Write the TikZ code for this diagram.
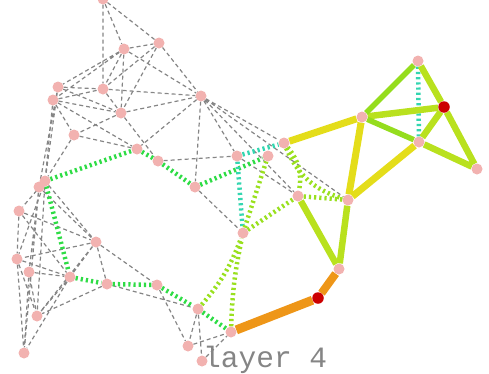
\documentclass[tikz,border=0pt]{standalone}
\usepackage{fontspec}
\newfontfamily\layerfont{Liberation Mono}
\usepackage{tikz}
\usetikzlibrary{backgrounds}

\definecolor{vtxpink}{HTML}{F2B2B0}
\definecolor{vtxred}{HTML}{CC0000}
\definecolor{linkgray}{HTML}{858585}
\definecolor{edgeyellow}{HTML}{E4DD1A}
\definecolor{edgelime}{HTML}{B9E11E}
\definecolor{edgegreen}{HTML}{95DD1E}
\definecolor{edgeorange}{HTML}{EE9618}
\definecolor{dotgreen}{HTML}{2EDC45}
\definecolor{dotlime}{HTML}{99E01E}
\definecolor{dotcyan}{HTML}{33D6B0}

\begin{document}
\begin{tikzpicture}[
  x=1pt, y=-1pt,
  vtx/.style={
    circle,
    fill=vtxpink,
    inner sep=0pt,
    minimum size=11pt
  },
  hub/.style={
    circle,
    fill=vtxred,
    inner sep=0pt,
    minimum size=11.5pt
  },
  link/.style={
    draw=linkgray,
    dash pattern=on 4pt off 3pt,
    line width=1.2pt
  },
  dotted edge/.style={
    dash pattern=on 2.2pt off 3pt,
    line width=4.5pt
  },
  bold edge/.style={
    line width=6.5pt
  }
]

\useasboundingbox (0,0) rectangle (489,373);

% Upper cluster
\node[vtx] (n01) at (103,-1) {};
\node[vtx] (n02) at (124,49) {};
\node[vtx] (n03) at (159,43) {};
\node[vtx] (n04) at (58,87) {};
\node[vtx] (n05) at (53,100) {};
\node[vtx] (n06) at (103,89) {};
\node[vtx] (n07) at (121,113) {};
\node[vtx] (n08) at (201,96) {};
\node[vtx] (n09) at (74,135) {};
\node[vtx] (n10) at (137,149) {};
\node[vtx] (n11) at (158,161) {};
\node[vtx] (n12) at (237,156) {};
\node[vtx] (n13) at (195,187) {};

% Left cluster
\node[vtx] (n14) at (45,181) {};
\node[vtx] (n15) at (39,187) {};
\node[vtx] (n16) at (19,211) {};
\node[vtx] (n17) at (96,242) {};
\node[vtx] (n18) at (17,259) {};
\node[vtx] (n19) at (29,272) {};
\node[vtx] (n20) at (70,277) {};
\node[vtx] (n21) at (107,284) {};
\node[vtx] (n22) at (157,285) {};
\node[vtx] (n23) at (37,316) {};
\node[vtx] (n24) at (24,353) {};

% Bottom cluster
\node[vtx] (n25) at (198,309) {};
\node[vtx] (n26) at (188,346) {};
\node[vtx] (n27) at (202,361) {};
\node[vtx] (n28) at (231,332) {};

% Middle
\node[vtx] (n29) at (243,233) {};
\node[vtx] (n30) at (284,143) {};
\node[vtx] (n31) at (268,156) {};
\node[vtx] (n32) at (298,196) {};
\node[vtx] (n33) at (348,200) {};
\node[vtx] (n34) at (339,269) {};
\node[hub] (n35) at (318,298) {};

% Right triangle group
\node[vtx] (n36) at (362,117) {};
\node[vtx] (n37) at (418,61) {};
\node[hub] (n38) at (444,107) {};
\node[vtx] (n39) at (419,142) {};
\node[vtx] (n40) at (477,169) {};

% Label
\node[font=\layerfont\fontsize{29.5}{31}\selectfont, text=linkgray,
  anchor=base west, inner sep=0pt] (title) at (203,367) {layer 4};

\begin{scope}[on background layer]
% Gray links, upper cluster
\draw[link] (n01) -- (n02) (n01) -- (n06) (n01) -- (n03);
\draw[link] (n02) -- (n03) (n02) -- (n04) (n02) -- (n05) (n02) -- (n06)
  (n02) -- (n07) (n02) -- (n08);
\draw[link] (n03) -- (n08) (n03) -- (n06) (n03) -- (n07);
\draw[link] (n04) -- (n06) (n04) -- (n07) (n04) -- (n14) (n04) -- (n15);
\draw[link] (n05) -- (n06) (n05) -- (n07) (n05) -- (n09) (n05) -- (n10)
  (n05) -- (n14);
\draw[link] (n06) -- (n08) (n06) -- (n07);
\draw[link] (n07) -- (n08) (n07) -- (n09) (n07) -- (n11);
\draw[link] (n08) -- (n10) (n08) -- (n13) (n08) -- (n12) (n08) -- (n30)
  (n08) -- (n32) (n08) -- (n33);
\draw[link] (n09) -- (n10) (n09) -- (n14);
\draw[link] (n11) -- (n12) (n12) -- (n32) (n13) -- (n29);

% Gray links, left cluster
\draw[link] (n14) -- (n16) (n14) -- (n17) (n14) -- (n18) (n14) -- (n23);
\draw[link] (n15) -- (n17) (n15) -- (n24) (n15) -- (n19);
\draw[link] (n16) -- (n17) (n16) -- (n20) (n16) -- (n18);
\draw[link] (n17) -- (n18) (n17) -- (n20) (n17) -- (n21) (n17) -- (n23)
  (n17) -- (n22);
\draw[link] (n18) -- (n20) (n18) -- (n24) (n18) -- (n23);
\draw[link] (n19) -- (n20) (n19) -- (n23) (n19) -- (n24);
\draw[link] (n20) -- (n23) (n20) -- (n24) (n21) -- (n23);

% Gray links, bottom cluster
\draw[link] (n21) -- (n25) (n22) -- (n26) (n25) -- (n26) (n25) -- (n27)
  (n26) -- (n28) (n27) -- (n28);

% Dotted green path
\draw[dotted edge, dotgreen] (n14) -- (n10) -- (n11) -- (n13) -- (n31);
\draw[dotted edge, dotgreen] (n14) -- (n20) -- (n21) -- (n22) -- (n25) -- (n28);

% Dotted cyan
\draw[dotted edge, dotcyan] (n12) -- (n29);
\draw[dotted edge, dotcyan] (n12) -- (n30);
\draw[dotted edge, dotcyan] (n37) -- (n39);

% Dotted lime
\draw[dotted edge, dotlime] (n28) to[bend left=5] (n29);
\draw[dotted edge, dotlime] (n25) to[bend right=10] (n29);
\draw[dotted edge, dotlime] (n29) -- (n31);
\draw[dotted edge, dotlime] (n29) -- (n32);
\draw[dotted edge, dotlime] (n30) to[bend left=25] (n32);
\draw[dotted edge, dotlime] (n30) to[bend right=25] (n33);
\draw[dotted edge, dotlime] (n32) -- (n33);

% Bold edges
\draw[bold edge, edgeyellow, line width=7pt] (n30) -- (n36) (n36) -- (n33)
  (n33) -- (n39);
\draw[bold edge, edgelime] (n36) -- (n38) (n37) -- (n38) (n38) -- (n39)
  (n38) -- (n40) (n39) -- (n40) (n33) -- (n34) (n32) -- (n34);
\draw[bold edge, edgegreen, line width=5.5pt] (n36) -- (n37) (n36) -- (n39);
\draw[bold edge, edgeorange, line width=9pt] (n28) -- (n35);
\draw[bold edge, edgeorange, line width=8pt] (n35) -- (n34);
\end{scope}

\end{tikzpicture}
\end{document}
